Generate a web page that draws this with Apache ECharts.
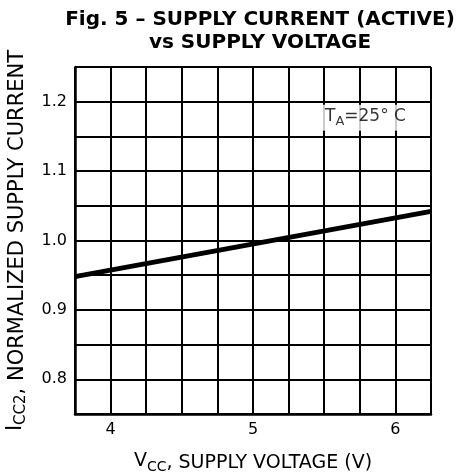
<!DOCTYPE html>
<html><head><meta charset="utf-8">
<script src="https://cdn.jsdelivr.net/npm/echarts@6/dist/echarts.min.js"></script>
<style>html,body{margin:0;padding:0;background:#fff}#c{width:466px;height:476px}</style>
</head><body><div id="c"></div>
<script>
const titleLines = ['Fig. 5 \u2013 SUPPLY CURRENT (ACTIVE)', 'vs SUPPLY VOLTAGE'];
const xTickLabels = [4, 5, 6];
const yTickLabels = [0.8, 0.9, 1.0, 1.1, 1.2];
const supplyVoltage = [3.75, 6.25];
const normalizedCurrent = [0.948, 1.042];
const annotationPos = [5.79, 1.177];

const FONT = '"DejaVu Sans", "Liberation Sans", Arial, sans-serif';
const chart = echarts.init(document.getElementById('c'), null, {renderer: 'canvas'});
const nameRich = (big, small, drop) => ({
  v: {fontSize: big, fontFamily: FONT, color: '#000', padding: [0,0,4,0]},
  s: {fontSize: small, fontFamily: FONT, color: '#000', padding: [drop,0,0,0]},
  n: {fontSize: big, fontFamily: FONT, color: '#000'}
});
chart.setOption({
  animation: false,
  backgroundColor: '#fff',
  title: {
    text: titleLines.join('\n'),
    left: 255, top: 3, textAlign: 'center',
    textStyle: {fontFamily: FONT, fontWeight: 'bold', fontSize: 20, lineHeight: 23, color: '#000'}
  },
  grid: {left: 75, right: 35, top: 67, bottom: 62, outerBoundsMode: 'none', containLabel: false},
  xAxis: {
    type: 'value', min: 3.75, max: 6.25, interval: 0.25,
    name: '{v|V}{s|CC}{n|, SUPPLY VOLTAGE (V)}',
    nameLocation: 'middle', nameGap: 38,
    nameTextStyle: {color: '#000', fontFamily: FONT, rich: nameRich(19, 14, 8)},
    axisLine: {show: true, lineStyle: {color: '#000', width: 2.5}},
    axisTick: {show: false},
    splitLine: {show: true, lineStyle: {color: '#000', width: 2}},
    axisLabel: {
      color: '#000', fontFamily: FONT, fontSize: 16, margin: 8,
      formatter: v => xTickLabels.some(t => Math.abs(t - v) < 1e-6) ? String(Math.round(v)) : ''
    }
  },
  yAxis: {
    type: 'value', min: 0.75, max: 1.25, interval: 0.05,
    name: '{v|I}{s|CC2}{n|, NORMALIZED SUPPLY CURRENT}',
    nameLocation: 'middle', nameGap: 45, nameRotate: 90,
    nameTextStyle: {color: '#000', fontFamily: FONT, rich: nameRich(21, 15, 8)},
    axisLine: {show: true, lineStyle: {color: '#000', width: 2.5}},
    axisTick: {show: false},
    splitLine: {show: true, lineStyle: {color: '#000', width: 2}},
    axisLabel: {
      color: '#000', fontFamily: FONT, fontSize: 16, margin: 8,
      formatter: v => {
        const t = yTickLabels.find(t => Math.abs(t - v) < 1e-6);
        return t === undefined ? '' : t.toFixed(1);
      }
    }
  },
  series: [
    {
      type: 'line', showSymbol: false, silent: true,
      data: supplyVoltage.map((x, i) => [x, normalizedCurrent[i]]),
      lineStyle: {color: '#000', width: 5}
    },
    {
      type: 'scatter', symbolSize: 0, silent: true, z: 5,
      data: [annotationPos],
      label: {
        show: true, position: 'inside',
        formatter: '{t|T}{a|A}{t|=25\u00b0 C}',
        backgroundColor: '#fff', padding: [3, 5, 2, 5],
        rich: {
          t: {fontSize: 17, fontFamily: FONT, color: '#000', padding: [0,0,4,0]},
          a: {fontSize: 13, fontFamily: FONT, color: '#000', padding: [7,0,0,0]}
        }
      }
    }
  ]
});
</script></body></html>
